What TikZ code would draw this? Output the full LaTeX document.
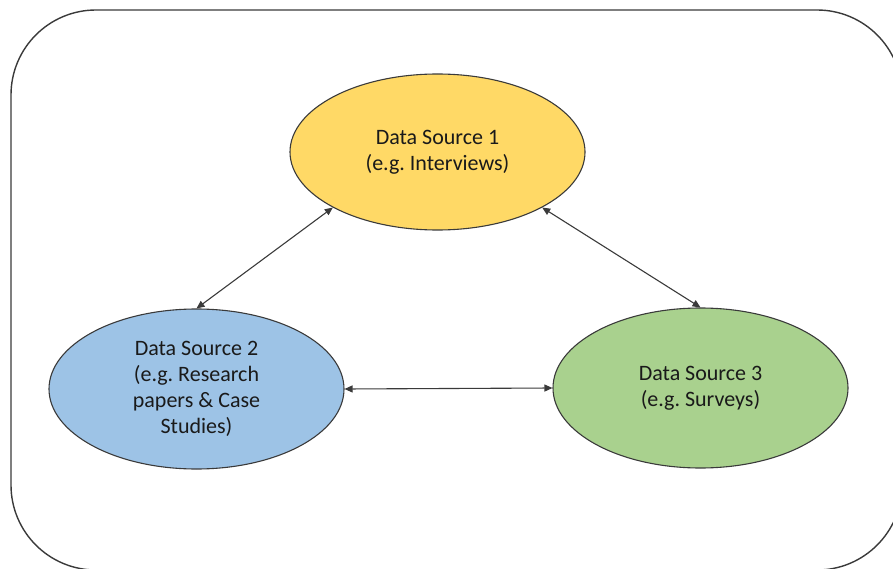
\documentclass[tikz,border=0pt]{standalone}
\usepackage{fontspec}
\setmainfont{Carlito}
\frenchspacing
\usetikzlibrary{shapes.geometric,arrows.meta}
\definecolor{srcyellow}{HTML}{FFD966}
\definecolor{srcblue}{HTML}{9DC3E6}
\definecolor{srcgreen}{HTML}{A9D18E}
\definecolor{edgegray}{HTML}{3A3A3A}
\definecolor{txtgray}{HTML}{1A1A1A}
\tikzset{
  source/.style={ellipse, draw=edgegray, line width=1.1pt, inner sep=0pt,
    minimum width=295pt, align=center, text=txtgray,
    font=\fontsize{22}{26}\selectfont},
  link/.style={draw=edgegray, line width=1.1pt,
    {Triangle[length=8pt,width=7pt]}-{Triangle[length=8pt,width=7pt]}},
  frame/.style={draw=edgegray, line width=1.4pt, rounded corners=85pt}
}
\begin{document}
\begin{tikzpicture}[x=1pt,y=-1pt]
  \useasboundingbox (0,0) rectangle (893,569);
  \begin{scope}
    \clip (0,0) rectangle (893,569);
    \draw[frame] (11,10) rectangle (902,570);
  \end{scope}
  \node[source, fill=srcyellow, minimum height=156pt] (ds1) at (437.5,152)
    {Data Source 1\\(e.g. Interviews)};
  \node[source, fill=srcblue, minimum height=160pt] (ds2) at (196.5,389)
    {Data Source 2\\(e.g. Research\\papers \& Case\\Studies)};
  \node[source, fill=srcgreen, minimum height=160pt] (ds3) at (700.5,388)
    {Data Source 3\\(e.g. Surveys)};
  \draw[link] (ds2.north) -- (ds1.south west);
  \draw[link] (ds1.south east) -- (ds3.north);
  \draw[link] (ds2.east) -- (ds3.west);
\end{tikzpicture}
\end{document}
